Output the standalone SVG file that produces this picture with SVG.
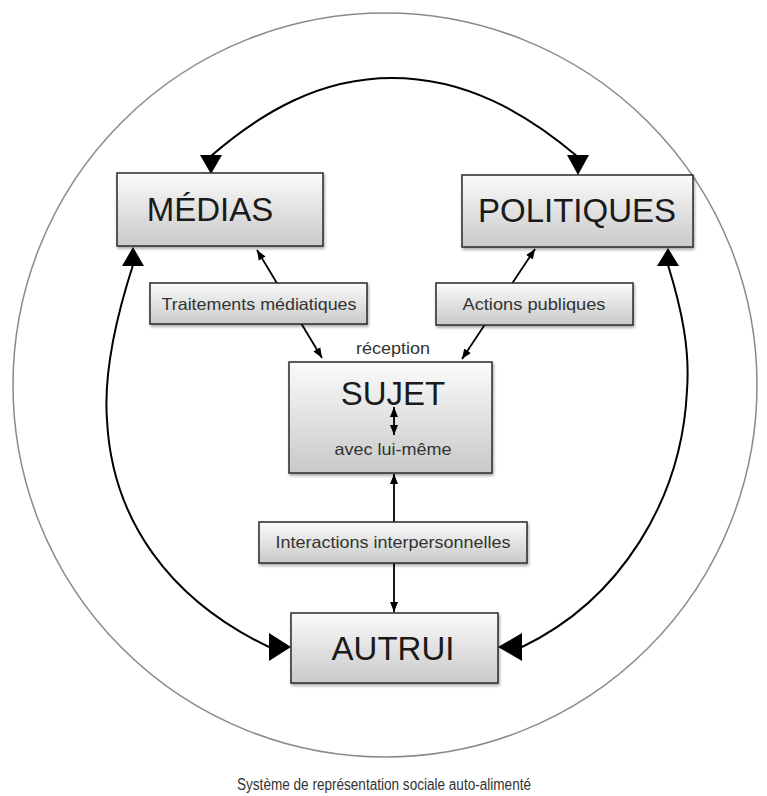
<svg xmlns="http://www.w3.org/2000/svg" width="767" height="796" viewBox="0 0 767 796">
<style>
.box{fill:url(#g);stroke:#2a2a2a;stroke-width:1.5;filter:url(#sh)}
.big{font-family:"Liberation Sans",Arial,sans-serif;font-size:33px;fill:#1a1a1a;text-anchor:middle}
.sm{font-family:"Liberation Sans",Arial,sans-serif;font-size:16.5px;fill:#333;text-anchor:middle}
.arc{fill:none;stroke:#000;stroke-width:2}
.ln{fill:none;stroke:#000;stroke-width:1.8}
.head{fill:#000}
</style>
<defs>
<linearGradient id="g" x1="0" y1="0" x2="0" y2="1">
<stop offset="0" stop-color="#fbfbfb"/>
<stop offset="1" stop-color="#c9c9c9"/>
</linearGradient>
<filter id="sh" x="-10%" y="-10%" width="130%" height="140%">
<feDropShadow dx="1" dy="2" stdDeviation="1.5" flood-color="#000" flood-opacity="0.35"/>
</filter>
<marker id="a" viewBox="0 0 10 10" refX="10" refY="5" markerWidth="10" markerHeight="10" markerUnits="userSpaceOnUse" orient="auto-start-reverse">
<path d="M0,1 L10,5 L0,9 Z" fill="#000"/>
</marker>
</defs>
<circle cx="385" cy="385" r="372" fill="none" stroke="#8a8a8a" stroke-width="1.5"/>
<g id="connectors">
<path class="arc" d="M211,156 C262,112 320,78 392,78 C465,78 525,112 578,157"/>
<polygon class="head" points="200,155 222,155 211,174"/>
<polygon class="head" points="567,155 589,155 578,175"/>
<path class="arc" d="M133,265 C112,330 104,380 107,420 C112,520 170,600 269,647"/>
<polygon class="head" points="133,247 122,266 144,266"/>
<polygon class="head" points="291,647 269,633 269,661"/>
<path class="arc" d="M668,265 C682,310 690,350 687,390 C682,500 620,600 522,647"/>
<polygon class="head" points="668,248 657,266 679,266"/>
<polygon class="head" points="498,647 522,633 522,661"/>
<line class="ln" x1="257" y1="250" x2="322" y2="358" marker-start="url(#a)" marker-end="url(#a)"/>
<line class="ln" x1="535" y1="249" x2="462" y2="359" marker-start="url(#a)" marker-end="url(#a)"/>
<line class="ln" x1="394" y1="474" x2="394" y2="612" marker-start="url(#a)" marker-end="url(#a)"/>
</g>
<g id="medias">
<rect class="box" x="117" y="173" width="206" height="73"/>
<text class="big" x="210" y="221">MÉDIAS</text>
</g>
<g id="politiques">
<rect class="box" x="462" y="175" width="231" height="72"/>
<text class="big" x="577" y="222">POLITIQUES</text>
</g>
<g id="traitements">
<rect class="box" x="150" y="283" width="217" height="41"/>
<text class="sm" x="259" y="310" textLength="195" lengthAdjust="spacingAndGlyphs">Traitements médiatiques</text>
</g>
<g id="actions">
<rect class="box" x="436" y="283" width="197" height="42"/>
<text class="sm" x="534" y="310" textLength="143" lengthAdjust="spacingAndGlyphs">Actions publiques</text>
</g>
<g id="sujet">
<text class="sm" x="393" y="354" textLength="74" lengthAdjust="spacingAndGlyphs">réception</text>
<rect class="box" x="289" y="362" width="203" height="111"/>
<text class="big" x="393" y="405">SUJET</text>
<line class="ln" x1="394" y1="407" x2="394" y2="435" stroke-width="2.4" marker-start="url(#a)" marker-end="url(#a)"/>
<text class="sm" x="393" y="455" textLength="117" lengthAdjust="spacingAndGlyphs">avec lui-même</text>
</g>
<g id="interactions">
<rect class="box" x="259" y="522" width="268" height="41"/>
<text class="sm" x="393" y="548" textLength="235" lengthAdjust="spacingAndGlyphs">Interactions interpersonnelles</text>
</g>
<g id="autrui">
<rect class="box" x="291" y="613" width="207" height="70"/>
<text class="big" x="393" y="660">AUTRUI</text>
</g>
<text class="sm" x="384" y="790" style="font-size:16px" textLength="294" lengthAdjust="spacingAndGlyphs">Système de représentation sociale auto-alimenté</text>
</svg>
